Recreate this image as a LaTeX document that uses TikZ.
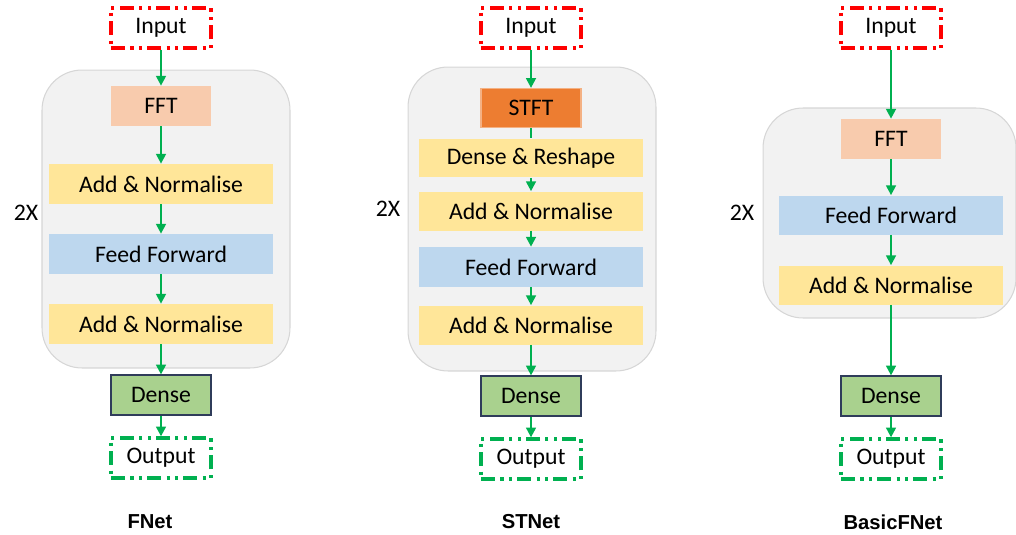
\documentclass[tikz,border=0pt]{standalone}
\usepackage{fontspec}
\setmainfont{Carlito}
\newfontfamily\titlefont{Liberation Sans}
\usetikzlibrary{arrows.meta, positioning}
\usepackage{xcolor}
\definecolor{garrow}{RGB}{0,176,80}
\definecolor{gred}{RGB}{255,0,0}
\definecolor{boxgray}{RGB}{242,242,242}
\definecolor{boxedge}{RGB}{214,214,214}
\definecolor{fftc}{RGB}{248,203,173}
\definecolor{stftc}{RGB}{237,125,49}
\definecolor{stfte}{RGB}{244,177,131}
\definecolor{addc}{RGB}{255,230,153}
\definecolor{ffc}{RGB}{189,215,238}
\definecolor{densec}{RGB}{169,209,142}
\definecolor{densee}{RGB}{47,60,90}

\begin{document}
\begin{tikzpicture}[x=0.02cm,y=-0.02cm,
  font=\fontsize{13.5}{15}\selectfont,
  io/.style={draw,line width=1.9pt,dash pattern=on 8pt off 3pt on 1.8pt off 3pt on 1.8pt off 3pt,
             minimum width=2.0cm,minimum height=0.8cm,inner sep=0pt},
  inp/.style={io,gred},
  outp/.style={io,garrow},
  small/.style={minimum width=2.0cm,minimum height=0.8cm,inner sep=0pt},
  wide/.style={minimum width=4.5cm,minimum height=0.8cm,inner sep=0pt},
  blockbox/.style={draw=boxedge,fill=boxgray,rounded corners=0.8cm,line width=0.6pt,inner sep=0pt},
  arr/.style={-{Triangle[width=5.5pt,length=5.5pt]},garrow,line width=1.2pt},
  title/.style={font=\titlefont\bfseries\fontsize{11.5}{13}\selectfont}
]
\useasboundingbox (0,0) rectangle (1016,534);

% FNet
\node[blockbox,minimum width=4.96cm,minimum height=5.96cm] (fblk) at (166,219) {};
\node[inp] (fin) at (161,28) {\textcolor{black}{Input}};
\node[small,fill=fftc] (ffft) at (161,106) {FFT};
\node[wide,fill=addc] (fadd1) at (161,184) {Add \& Normalise};
\node[wide,fill=ffc] (fff) at (161,254) {Feed Forward};
\node[wide,fill=addc] (fadd2) at (161,324) {Add \& Normalise};
\node[small,fill=densec,draw=densee,line width=0.7pt] (fden) at (161,395) {Dense};
\node[outp] (fout) at (161,458) {\textcolor{black}{Output}};
\node (frep) at (26,213) {2X};
\node[title] (fname) at (150,522) {FNet};
\draw[arr] (fin)--(ffft);
\draw[arr] (ffft)--(fadd1);
\draw[arr] (fadd1)--(fff);
\draw[arr] (fff)--(fadd2);
\draw[arr] (fadd2)--(fden);
\draw[arr] (fden)--(fout);

% STNet
\node[blockbox,minimum width=4.96cm,minimum height=6.08cm] (sblk) at (532,219) {};
\node[inp] (sin) at (531,28) {\textcolor{black}{Input}};
\node[small,fill=stftc,draw=stfte,line width=0.7pt,minimum height=0.78cm] (sstft) at (531,108) {STFT};
\node[wide,fill=addc,minimum height=0.78cm] (sdr) at (531,158) {Dense \& Reshape};
\node[wide,fill=addc,minimum height=0.78cm] (sadd1) at (531,211) {Add \& Normalise};
\node[wide,fill=ffc] (sff) at (531,267) {Feed Forward};
\node[wide,fill=addc,minimum height=0.78cm] (sadd2) at (531,325) {Add \& Normalise};
\node[small,fill=densec,draw=densee,line width=0.7pt] (sden) at (531,396) {Dense};
\node[outp] (sout) at (531,459) {\textcolor{black}{Output}};
\node (srep) at (388,209) {2X};
\node[title] (sname) at (531,522) {STNet};
\draw[arr] (sin)--(sstft);
\draw[garrow,line width=1.2pt] (sstft)--(sdr);
\draw[arr] (sdr)--(sadd1);
\draw[arr] (sadd1)--(sff);
\draw[arr] (sff)--(sadd2);
\draw[arr] (sadd2)--(sden);
\draw[arr] (sden)--(sout);

% BasicFNet
\node[blockbox,minimum width=5.06cm,minimum height=4.2cm] (bblk) at (889.5,213) {};
\node[inp] (bin) at (891,28) {\textcolor{black}{Input}};
\node[small,fill=fftc] (bfft) at (891,139) {FFT};
\node[wide,fill=ffc,minimum height=0.78cm] (bff) at (891,215) {Feed Forward};
\node[wide,fill=addc,minimum height=0.78cm] (badd) at (891,285) {Add \& Normalise};
\node[small,fill=densec,draw=densee,line width=0.7pt] (bden) at (891,396) {Dense};
\node[outp] (bout) at (891,459) {\textcolor{black}{Output}};
\node (brep) at (742,213) {2X};
\node[title] (bname) at (893,522) {BasicFNet};
\draw[arr] (bin)--(bfft);
\draw[arr] (bfft)--(bff);
\draw[arr] (bff)--(badd);
\draw[arr] (badd)--(bden);
\draw[arr] (bden)--(bout);
\end{tikzpicture}
\end{document}
